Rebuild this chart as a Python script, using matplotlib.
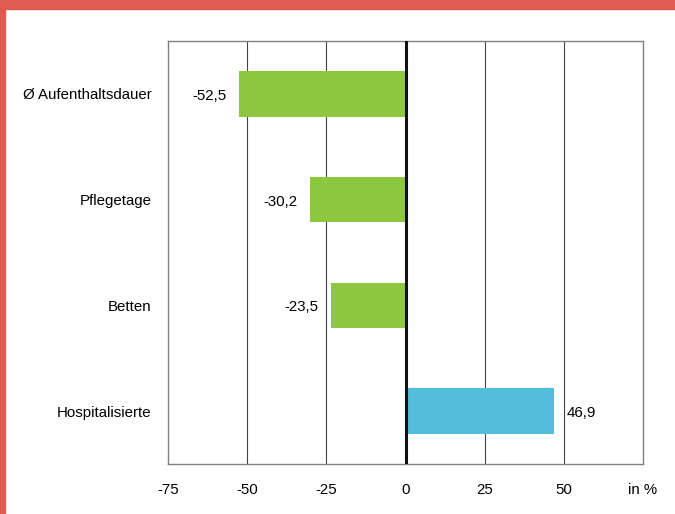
import matplotlib.pyplot as plt
from matplotlib.patches import Rectangle

categories = ['Ø Aufenthaltsdauer', 'Pflegetage', 'Betten', 'Hospitalisierte']
values = [-52.5, -30.2, -23.5, 46.9]
bar_colors = ['#8DC63F', '#8DC63F', '#8DC63F', '#52BEDA']
ticks = [-75, -50, -25, 0, 25, 50, 75]
tick_labels = ['-75', '-50', '-25', '0', '25', '50', 'in %']

plt.rcParams['font.family'] = ['Liberation Sans', 'DejaVu Sans']
fs = 10.8

fig = plt.figure(figsize=(6.75, 5.14), dpi=100)
W, H = 675, 514
ax = fig.add_axes([168 / W, 1 - 464 / H, (643 - 168) / W, (464 - 41) / H])

y = list(range(len(categories)))
ax.barh(y, values, height=0.43, color=bar_colors, zorder=3)

for yi, v in zip(y, values):
    txt = f'{v:.1f}'.replace('.', ',')
    if v < 0:
        ax.text(v - 4, yi + 0.02, txt, ha='right', va='center', fontsize=fs)
    else:
        ax.text(v + 4, yi + 0.02, txt, ha='left', va='center', fontsize=fs)

ax.set_xlim(-75, 75)
ax.set_ylim(3.5, -0.5)
ax.set_yticks(y)
ax.set_yticklabels(categories, fontsize=fs)
ax.set_xticks(ticks)
ax.set_xticklabels(tick_labels, fontsize=fs)
ax.tick_params(length=0, pad=14)
ax.tick_params(axis='y', pad=12)

for t in ticks[1:-1]:
    if t == 0:
        ax.axvline(t, color='#111111', lw=2.2, zorder=4)
    else:
        ax.axvline(t, color='#444444', lw=0.8, zorder=1)

for s in ax.spines.values():
    s.set_color('#808080')
    s.set_linewidth(1.0)

# red frame along top and left edge
fig.patches.append(Rectangle((0, 1 - 9 / H), 1, 9 / H, transform=fig.transFigure,
                             color='#E05A4F', zorder=0))
fig.patches.append(Rectangle((0, 0), 5 / W, 1, transform=fig.transFigure,
                             color='#E05A4F', zorder=0))

fig.savefig('out.png', dpi=100)
